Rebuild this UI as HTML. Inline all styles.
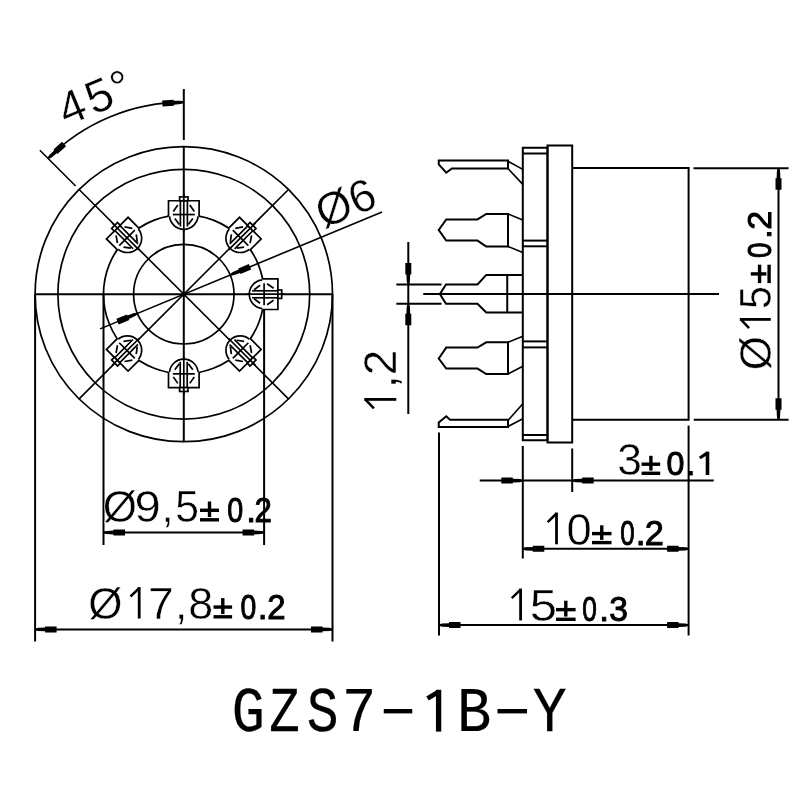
<!DOCTYPE html>
<html><head><meta charset="utf-8"><style>
html,body{margin:0;padding:0;background:#fff;}
svg{display:block;filter:grayscale(100%);}
.ln{stroke:#000;stroke-width:2.0;fill:none;stroke-linecap:butt;stroke-linejoin:miter;}
.ln polygon.ah{fill:#000;stroke:none;}
.t{font-family:"Liberation Sans",sans-serif;fill:#000;}
.tm{font-family:"Liberation Mono",monospace;fill:#000;}
</style></head><body>
<svg width="800" height="800" viewBox="0 0 800 800">
<rect width="800" height="800" fill="#fff"/>
<g class="ln">
<ellipse cx="183.80" cy="294.20" rx="148.70" ry="147.51" style="stroke-width:1.7"/>
<ellipse cx="183.80" cy="294.20" rx="125.90" ry="124.89" style="stroke-width:1.7"/>
<ellipse cx="183.80" cy="294.20" rx="80.30" ry="79.66" style="stroke-width:1.7"/>
<ellipse cx="183.80" cy="294.20" rx="50.20" ry="49.80" style="stroke-width:1.7"/>
<line x1="183.80" y1="89.00" x2="183.80" y2="140.00"/>
<line x1="183.80" y1="146.69" x2="183.80" y2="441.71"/>
<line x1="35.10" y1="294.20" x2="332.50" y2="294.20"/>
<line x1="78.65" y1="189.05" x2="288.95" y2="399.35" style="stroke-width:1.6"/>
<line x1="288.95" y1="189.05" x2="78.65" y2="399.35" style="stroke-width:1.6"/>
<line x1="75.61" y1="186.01" x2="39.90" y2="150.30" style="stroke-width:1.6"/>
<path d="M183.80,102.20 A192,192 0 0 0 48.04,158.44" style="stroke-width:1.7"/>
<polygon class="ah" points="183.76,101.50 180.72,100.77 173.71,100.85 173.65,99.75 162.17,100.39 162.50,106.38 173.98,105.74 173.92,104.65 180.89,103.96 183.84,102.90"/>
<polygon class="ah" points="48.50,158.96 51.34,157.63 56.75,153.18 57.49,154.00 66.05,146.33 62.05,141.86 53.48,149.53 54.22,150.35 49.20,155.24 47.57,157.91"/>
<line x1="100.10" y1="328.87" x2="382.06" y2="212.08" style="stroke-width:1.6"/>
<polygon class="ah" points="230.45,275.64 233.56,275.32 240.14,272.92 240.57,273.93 251.19,269.53 248.89,263.99 238.27,268.39 238.69,269.41 232.34,272.36 229.91,274.34"/>
<polygon class="ah" points="137.15,312.76 134.04,313.08 127.46,315.48 127.03,314.47 116.41,318.87 118.71,324.41 129.33,320.01 128.91,318.99 135.26,316.04 137.69,314.06"/>
<ellipse cx="183.80" cy="294.20" rx="2.6" ry="2.2" style="fill:#000;stroke:none"/>
<line x1="35.10" y1="294.20" x2="35.10" y2="641.50"/>
<line x1="332.50" y1="294.20" x2="332.50" y2="641.50"/>
<line x1="103.50" y1="294.20" x2="103.50" y2="545.00"/>
<line x1="264.10" y1="294.20" x2="264.10" y2="545.00"/>
<line x1="103.50" y1="532.50" x2="264.10" y2="532.50"/>
<polygon class="ah" points="103.50,533.20 106.50,534.10 113.50,534.40 113.50,535.50 125.00,535.50 125.00,529.50 113.50,529.50 113.50,530.60 106.50,530.90 103.50,531.80"/>
<polygon class="ah" points="264.10,531.80 261.10,530.90 254.10,530.60 254.10,529.50 242.60,529.50 242.60,535.50 254.10,535.50 254.10,534.40 261.10,534.10 264.10,533.20"/>
<line x1="35.10" y1="629.40" x2="332.50" y2="629.40"/>
<polygon class="ah" points="35.10,630.10 38.10,631.00 45.10,631.30 45.10,632.40 56.60,632.40 56.60,626.40 45.10,626.40 45.10,627.50 38.10,627.80 35.10,628.70"/>
<polygon class="ah" points="332.50,628.70 329.50,627.80 322.50,627.50 322.50,626.40 311.00,626.40 311.00,632.40 322.50,632.40 322.50,631.30 329.50,631.00 332.50,630.10"/>
<g transform="translate(183.80,214.54) rotate(0)" style="stroke-width:1.7"><circle cx="0" cy="0.5" r="14.3" fill="#fff"/><polyline points="-15.3,1.8 -15.3,-13.8 15.3,-13.8 15.3,1.8" fill="#fff"/><rect x="-4.2" y="-17.6" width="8.4" height="3.8" fill="#fff"/><line x1="-11" y1="0" x2="11" y2="0"/><line x1="-3.4" y1="-14" x2="-3.4" y2="12"/><line x1="3.6" y1="-14" x2="3.6" y2="12"/><line x1="0" y1="-21" x2="0" y2="17"/><polyline points="-10.5,-3 -6,-9.5"/><polyline points="6,-9.5 10.5,-3"/><polyline points="-9,4 -4.5,10"/><polyline points="4.5,10 9,4"/></g>
<g transform="translate(240.58,237.87) rotate(45)" style="stroke-width:1.7"><circle cx="0" cy="0.5" r="14.3" fill="#fff"/><polyline points="-15.3,1.8 -15.3,-13.8 15.3,-13.8 15.3,1.8" fill="#fff"/><rect x="-4.2" y="-17.6" width="8.4" height="3.8" fill="#fff"/><line x1="-11" y1="0" x2="11" y2="0"/><line x1="-3.4" y1="-14" x2="-3.4" y2="12"/><line x1="3.6" y1="-14" x2="3.6" y2="12"/><line x1="0" y1="-21" x2="0" y2="17"/><polyline points="-10.5,-3 -6,-9.5"/><polyline points="6,-9.5 10.5,-3"/><polyline points="-9,4 -4.5,10"/><polyline points="4.5,10 9,4"/></g>
<g transform="translate(264.10,294.20) rotate(90)" style="stroke-width:1.7"><circle cx="0" cy="0.5" r="14.3" fill="#fff"/><polyline points="-15.3,1.8 -15.3,-13.8 15.3,-13.8 15.3,1.8" fill="#fff"/><rect x="-4.2" y="-17.6" width="8.4" height="3.8" fill="#fff"/><line x1="-11" y1="0" x2="11" y2="0"/><line x1="-3.4" y1="-14" x2="-3.4" y2="12"/><line x1="3.6" y1="-14" x2="3.6" y2="12"/><line x1="0" y1="-21" x2="0" y2="17"/><polyline points="-10.5,-3 -6,-9.5"/><polyline points="6,-9.5 10.5,-3"/><polyline points="-9,4 -4.5,10"/><polyline points="4.5,10 9,4"/></g>
<g transform="translate(240.58,350.53) rotate(135)" style="stroke-width:1.7"><circle cx="0" cy="0.5" r="14.3" fill="#fff"/><polyline points="-15.3,1.8 -15.3,-13.8 15.3,-13.8 15.3,1.8" fill="#fff"/><rect x="-4.2" y="-17.6" width="8.4" height="3.8" fill="#fff"/><line x1="-11" y1="0" x2="11" y2="0"/><line x1="-3.4" y1="-14" x2="-3.4" y2="12"/><line x1="3.6" y1="-14" x2="3.6" y2="12"/><line x1="0" y1="-21" x2="0" y2="17"/><polyline points="-10.5,-3 -6,-9.5"/><polyline points="6,-9.5 10.5,-3"/><polyline points="-9,4 -4.5,10"/><polyline points="4.5,10 9,4"/></g>
<g transform="translate(183.80,373.86) rotate(180)" style="stroke-width:1.7"><circle cx="0" cy="0.5" r="14.3" fill="#fff"/><polyline points="-15.3,1.8 -15.3,-13.8 15.3,-13.8 15.3,1.8" fill="#fff"/><rect x="-4.2" y="-17.6" width="8.4" height="3.8" fill="#fff"/><line x1="-11" y1="0" x2="11" y2="0"/><line x1="-3.4" y1="-14" x2="-3.4" y2="12"/><line x1="3.6" y1="-14" x2="3.6" y2="12"/><line x1="0" y1="-21" x2="0" y2="17"/><polyline points="-10.5,-3 -6,-9.5"/><polyline points="6,-9.5 10.5,-3"/><polyline points="-9,4 -4.5,10"/><polyline points="4.5,10 9,4"/></g>
<g transform="translate(127.02,350.53) rotate(225)" style="stroke-width:1.7"><circle cx="0" cy="0.5" r="14.3" fill="#fff"/><polyline points="-15.3,1.8 -15.3,-13.8 15.3,-13.8 15.3,1.8" fill="#fff"/><rect x="-4.2" y="-17.6" width="8.4" height="3.8" fill="#fff"/><line x1="-11" y1="0" x2="11" y2="0"/><line x1="-3.4" y1="-14" x2="-3.4" y2="12"/><line x1="3.6" y1="-14" x2="3.6" y2="12"/><line x1="0" y1="-21" x2="0" y2="17"/><polyline points="-10.5,-3 -6,-9.5"/><polyline points="6,-9.5 10.5,-3"/><polyline points="-9,4 -4.5,10"/><polyline points="4.5,10 9,4"/></g>
<g transform="translate(127.02,237.87) rotate(-45)" style="stroke-width:1.7"><circle cx="0" cy="0.5" r="14.3" fill="#fff"/><polyline points="-15.3,1.8 -15.3,-13.8 15.3,-13.8 15.3,1.8" fill="#fff"/><rect x="-4.2" y="-17.6" width="8.4" height="3.8" fill="#fff"/><line x1="-11" y1="0" x2="11" y2="0"/><line x1="-3.4" y1="-14" x2="-3.4" y2="12"/><line x1="3.6" y1="-14" x2="3.6" y2="12"/><line x1="0" y1="-21" x2="0" y2="17"/><polyline points="-10.5,-3 -6,-9.5"/><polyline points="6,-9.5 10.5,-3"/><polyline points="-9,4 -4.5,10"/><polyline points="4.5,10 9,4"/></g>
<polygon points="522.80,147.80 547.50,147.80 547.50,440.30 522.80,440.30"/>
<line x1="522.80" y1="153.50" x2="547.50" y2="153.50"/>
<line x1="522.80" y1="435.00" x2="547.50" y2="435.00"/>
<line x1="522.80" y1="240.60" x2="547.50" y2="240.60"/>
<line x1="522.80" y1="246.30" x2="547.50" y2="246.30"/>
<line x1="522.80" y1="341.40" x2="547.50" y2="341.40"/>
<line x1="522.80" y1="347.40" x2="547.50" y2="347.40"/>
<polygon points="547.50,145.50 572.20,145.50 572.20,442.50 547.50,442.50"/>
<polyline points="572.20,168.00 688.60,168.00 688.60,419.80 572.20,419.80"/>
<line x1="423.25" y1="294.00" x2="719.00" y2="294.00"/>
<polygon points="438.75,160.60 508.00,160.60 508.00,168.50 451.90,168.50 446.25,172.75 438.75,164.40"/>
<line x1="508.00" y1="161.25" x2="522.80" y2="169.40" style="stroke-width:1.6"/>
<line x1="508.00" y1="168.50" x2="522.80" y2="184.40" style="stroke-width:1.6"/>
<polygon points="438.75,230.00 446.25,219.40 477.50,219.40 486.25,214.00 508.00,214.00 508.00,246.50 486.25,246.50 477.50,240.60 446.25,240.60"/>
<line x1="508.00" y1="214.00" x2="522.80" y2="220.00" style="stroke-width:1.6"/>
<line x1="508.00" y1="246.50" x2="522.80" y2="252.50" style="stroke-width:1.6"/>
<polyline points="522.80,274.90 486.25,274.90 477.50,284.50 446.00,284.50 439.90,294.00 446.00,303.75 477.50,303.75 486.25,312.50 522.80,312.50"/>
<line x1="507.25" y1="274.90" x2="507.25" y2="312.50"/>
<polygon points="438.75,358.50 446.25,347.60 477.50,347.60 486.25,342.30 508.00,342.30 508.00,374.00 486.25,374.00 477.50,368.60 446.25,368.60"/>
<line x1="508.00" y1="342.30" x2="522.80" y2="336.25" style="stroke-width:1.6"/>
<line x1="508.00" y1="374.00" x2="522.80" y2="366.25" style="stroke-width:1.6"/>
<polygon points="438.75,427.00 508.00,427.00 508.00,419.75 450.00,419.75 446.25,416.25 438.75,422.50"/>
<line x1="508.00" y1="420.50" x2="522.80" y2="403.75" style="stroke-width:1.6"/>
<line x1="508.00" y1="426.50" x2="522.80" y2="418.75" style="stroke-width:1.6"/>
<line x1="408.30" y1="242.00" x2="408.30" y2="414.00"/>
<line x1="396.30" y1="284.50" x2="441.50" y2="284.50"/>
<line x1="396.30" y1="303.75" x2="441.50" y2="303.75"/>
<polygon class="ah" points="409.00,284.50 409.90,281.50 410.20,274.50 411.30,274.50 411.30,263.00 405.30,263.00 405.30,274.50 406.40,274.50 406.70,281.50 407.60,284.50"/>
<polygon class="ah" points="407.60,303.75 406.70,306.75 406.40,313.75 405.30,313.75 405.30,325.25 411.30,325.25 411.30,313.75 410.20,313.75 409.90,306.75 409.00,303.75"/>
<line x1="693.50" y1="168.20" x2="788.60" y2="168.20"/>
<line x1="693.75" y1="419.80" x2="788.60" y2="419.80"/>
<line x1="778.50" y1="168.20" x2="778.50" y2="419.80"/>
<polygon class="ah" points="777.80,168.20 776.90,171.20 776.60,178.20 775.50,178.20 775.50,189.70 781.50,189.70 781.50,178.20 780.40,178.20 780.10,171.20 779.20,168.20"/>
<polygon class="ah" points="779.20,419.80 780.10,416.80 780.40,409.80 781.50,409.80 781.50,398.30 775.50,398.30 775.50,409.80 776.60,409.80 776.90,416.80 777.80,419.80"/>
<line x1="522.80" y1="446.00" x2="522.80" y2="558.50"/>
<line x1="572.20" y1="448.50" x2="572.20" y2="492.00"/>
<line x1="479.75" y1="480.60" x2="713.75" y2="480.60"/>
<polygon class="ah" points="522.80,479.90 519.80,479.00 512.80,478.70 512.80,477.60 501.30,477.60 501.30,483.60 512.80,483.60 512.80,482.50 519.80,482.20 522.80,481.30"/>
<polygon class="ah" points="572.20,481.30 575.20,482.20 582.20,482.50 582.20,483.60 593.70,483.60 593.70,477.60 582.20,477.60 582.20,478.70 575.20,479.00 572.20,479.90"/>
<line x1="522.80" y1="548.80" x2="688.60" y2="548.80"/>
<polygon class="ah" points="522.80,549.50 525.80,550.40 532.80,550.70 532.80,551.80 544.30,551.80 544.30,545.80 532.80,545.80 532.80,546.90 525.80,547.20 522.80,548.10"/>
<polygon class="ah" points="688.60,548.10 685.60,547.20 678.60,546.90 678.60,545.80 667.10,545.80 667.10,551.80 678.60,551.80 678.60,550.70 685.60,550.40 688.60,549.50"/>
<line x1="439.00" y1="432.50" x2="439.00" y2="635.50"/>
<line x1="688.60" y1="425.60" x2="688.60" y2="635.50"/>
<line x1="439.00" y1="625.10" x2="688.60" y2="625.10"/>
<polygon class="ah" points="439.00,625.80 442.00,626.70 449.00,627.00 449.00,628.10 460.50,628.10 460.50,622.10 449.00,622.10 449.00,623.20 442.00,623.50 439.00,624.40"/>
<polygon class="ah" points="688.60,624.40 685.60,623.50 678.60,623.20 678.60,622.10 667.10,622.10 667.10,628.10 678.60,628.10 678.60,627.00 685.60,626.70 688.60,625.80"/>
</g>
<text class="t" transform="translate(102.64,521.50)" font-size="44" stroke="#fff" stroke-width="0.45">Ø</text>
<text class="t" transform="translate(134.55,521.50) scale(1.07,1)" font-size="44" stroke="#fff" stroke-width="0.45">9</text>
<text class="t" transform="translate(161.54,521.50)" font-size="44" stroke="#fff" stroke-width="0.45">,</text>
<text class="t" transform="translate(175.29,521.50) scale(0.97,1)" font-size="44" stroke="#fff" stroke-width="0.45">5</text>
<g stroke="#000" stroke-width="3.4"><line x1="200.00" y1="510.28" x2="219.00" y2="510.28"/><line x1="209.50" y1="501.50" x2="209.50" y2="517.08"/><line x1="200.00" y1="519.80" x2="219.00" y2="519.80"/></g>
<text class="t" transform="translate(227.35,521.50) scale(0.82,1)" font-size="35" stroke="#000" stroke-width="1.0">0</text>
<text class="t" transform="translate(246.35,521.50)" font-size="35" stroke="#000" stroke-width="1.0">.</text>
<text class="t" transform="translate(254.44,521.50) scale(0.89,1)" font-size="35" stroke="#000" stroke-width="1.0">2</text>
<text class="t" transform="translate(88.24,618.50)" font-size="44" stroke="#fff" stroke-width="0.45">Ø</text>
<rect x="137.80" y="587.10" width="2.80" height="31.40" fill="#000"/><line x1="139.20" y1="588.08" x2="130.48" y2="596.52" stroke="#000" stroke-width="2.52"/>
<text class="t" transform="translate(147.99,618.50) scale(1.05,1)" font-size="44" stroke="#fff" stroke-width="0.45">7</text>
<text class="t" transform="translate(175.04,618.50)" font-size="44" stroke="#fff" stroke-width="0.45">,</text>
<text class="t" transform="translate(188.20,618.50) scale(1.02,1)" font-size="44" stroke="#fff" stroke-width="0.45">8</text>
<g stroke="#000" stroke-width="3.4"><line x1="213.50" y1="607.08" x2="232.10" y2="607.08"/><line x1="222.80" y1="598.10" x2="222.80" y2="614.08"/><line x1="213.50" y1="616.80" x2="232.10" y2="616.80"/></g>
<text class="t" transform="translate(240.57,618.60) scale(0.81,1)" font-size="35" stroke="#000" stroke-width="1.0">0</text>
<text class="t" transform="translate(257.65,618.60)" font-size="35" stroke="#000" stroke-width="1.0">.</text>
<text class="t" transform="translate(267.16,618.60) scale(0.94,1)" font-size="35" stroke="#000" stroke-width="1.0">2</text>
<text class="t" transform="translate(617.22,475.00)" font-size="44.5" stroke="#fff" stroke-width="0.45">3</text>
<g stroke="#000" stroke-width="3.4"><line x1="641.60" y1="464.20" x2="660.20" y2="464.20"/><line x1="650.90" y1="455.80" x2="650.90" y2="470.58"/><line x1="641.60" y1="473.30" x2="660.20" y2="473.30"/></g>
<text class="t" transform="translate(666.51,475.00) scale(0.96,1)" font-size="33.5" stroke="#000" stroke-width="1.0">0</text>
<text class="t" transform="translate(685.99,475.00)" font-size="33.5" stroke="#000" stroke-width="1.0">.</text>
<rect x="705.70" y="451.70" width="3.60" height="23.30" fill="#000"/><line x1="707.50" y1="452.96" x2="699.79" y2="457.99" stroke="#000" stroke-width="3.24"/>
<rect x="555.10" y="512.50" width="2.80" height="31.80" fill="#000"/><line x1="556.50" y1="513.48" x2="547.67" y2="522.04" stroke="#000" stroke-width="2.52"/>
<text class="t" transform="translate(566.59,544.50) scale(1.03,1)" font-size="44" stroke="#fff" stroke-width="0.45">0</text>
<g stroke="#000" stroke-width="3.4"><line x1="592.00" y1="533.60" x2="611.50" y2="533.60"/><line x1="601.75" y1="525.30" x2="601.75" y2="539.88"/><line x1="592.00" y1="542.60" x2="611.50" y2="542.60"/></g>
<text class="t" transform="translate(620.21,544.60) scale(0.74,1)" font-size="35" stroke="#000" stroke-width="1.0">0</text>
<text class="t" transform="translate(635.85,544.60)" font-size="35" stroke="#000" stroke-width="1.0">.</text>
<text class="t" transform="translate(644.68,544.60) scale(0.98,1)" font-size="35" stroke="#000" stroke-width="1.0">2</text>
<rect x="519.20" y="588.60" width="2.80" height="31.80" fill="#000"/><line x1="520.60" y1="589.58" x2="511.77" y2="598.14" stroke="#000" stroke-width="2.52"/>
<text class="t" transform="translate(529.74,620.60) scale(1.1,1)" font-size="44.5" stroke="#fff" stroke-width="0.45">5</text>
<g stroke="#000" stroke-width="3.4"><line x1="556.00" y1="609.63" x2="575.60" y2="609.63"/><line x1="565.80" y1="600.70" x2="565.80" y2="616.58"/><line x1="556.00" y1="619.30" x2="575.60" y2="619.30"/></g>
<text class="t" transform="translate(582.35,621.00) scale(0.75,1)" font-size="35" stroke="#000" stroke-width="1.0">0</text>
<text class="t" transform="translate(599.25,621.00)" font-size="35" stroke="#000" stroke-width="1.0">.</text>
<text class="t" transform="translate(609.16,621.00) scale(0.96,1)" font-size="35" stroke="#000" stroke-width="1.0">3</text>
<g transform="translate(396.3,409.3) rotate(-90)"><rect x="8.50" y="-32.00" width="2.80" height="32.00" fill="#000"/><line x1="9.90" y1="-31.02" x2="1.02" y2="-22.40" stroke="#000" stroke-width="2.52"/><text class="t" transform="translate(21.16,0.00)" font-size="46" stroke="#fff" stroke-width="0.45">,</text><text class="t" transform="translate(34.00,0.00)" font-size="46" stroke="#fff" stroke-width="0.45">2</text></g>
<g transform="translate(770.8,368.5) rotate(-90)"><text class="t" transform="translate(-1.76,0.00)" font-size="44" stroke="#fff" stroke-width="0.45">Ø</text><rect x="47.70" y="-31.00" width="2.80" height="31.00" fill="#000"/><line x1="49.10" y1="-30.02" x2="40.48" y2="-21.70" stroke="#000" stroke-width="2.52"/><text class="t" transform="translate(59.55,0.00) scale(0.94,1)" font-size="44" stroke="#fff" stroke-width="0.45">5</text><g stroke="#000" stroke-width="3.4"><line x1="85.40" y1="-11.22" x2="103.80" y2="-11.22"/><line x1="94.60" y1="-20.00" x2="94.60" y2="-4.42"/><line x1="85.40" y1="-1.70" x2="103.80" y2="-1.70"/></g><text class="t" transform="translate(110.38,0.00) scale(0.82,1)" font-size="34" stroke="#000" stroke-width="1.0">0</text><text class="t" transform="translate(129.84,0.00)" font-size="34" stroke="#000" stroke-width="1.0">.</text><text class="t" transform="translate(138.80,0.00)" font-size="34" stroke="#000" stroke-width="1.0">2</text></g>
<text class="t" transform="translate(66.0,126.5) rotate(-22.5)" font-size="46.5" stroke="#fff" stroke-width="0.45" dx="0 3.5 1.5">45°</text>
<text class="t" transform="translate(323.6,229.0) rotate(-22.5)" font-size="45.5" stroke="#fff" stroke-width="0.45">Ø6</text>
<text class="tm" transform="translate(231.79,731.4) scale(0.87,1)" font-size="63.5" stroke="#000" stroke-width="0.25">G</text>
<text class="tm" transform="translate(269.27,731.4) scale(0.8,1)" font-size="63.5" stroke="#000" stroke-width="0.25">Z</text>
<text class="tm" transform="translate(306.68,731.4) scale(0.835,1)" font-size="63.5" stroke="#000" stroke-width="0.25">S</text>
<text class="tm" transform="translate(341.93,731.4) scale(0.9,1)" font-size="63.5" stroke="#000" stroke-width="0.25">7</text>
<text class="tm" transform="translate(456.93,731.4) scale(0.9,1)" font-size="63.5" stroke="#000" stroke-width="0.25">B</text>
<text class="tm" transform="translate(532.87,731.4) scale(0.89,1)" font-size="63.5" stroke="#000" stroke-width="0.25">Y</text>
<rect x="383.75" y="709" width="28.5" height="4.4" fill="#000"/>
<rect x="497.5" y="709" width="29.5" height="4.4" fill="#000"/>
<rect x="435.95" y="689.80" width="5.30" height="41.80" fill="#000"/><line x1="438.60" y1="691.66" x2="427.51" y2="698.58" stroke="#000" stroke-width="4.77"/>
</svg>
</body></html>
